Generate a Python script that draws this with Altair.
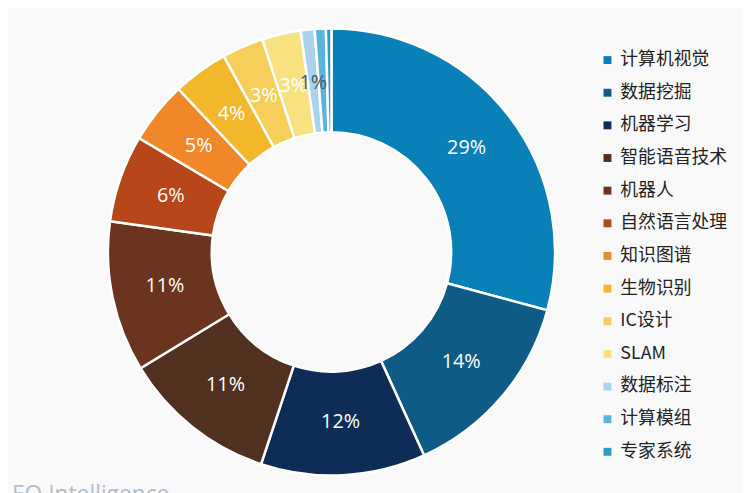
import altair as alt
import pandas as pd

categories = ["计算机视觉", "数据挖掘", "机器学习", "智能语音技术", "机器人", "自然语言处理",
              "知识图谱", "生物识别", "IC设计", "SLAM", "数据标注", "计算模组", "专家系统"]
values = [29.2, 14.0, 11.9, 11.2, 10.9, 6.3, 4.5, 4.0, 3.0, 2.8, 1.0, 0.8, 0.4]
labels = ["29%", "14%", "12%", "11%", "11%", "6%", "5%", "4%", "3%", "3%", "1%", "", ""]
colors = ["#0A80B8", "#0E5C86", "#0D2D57", "#51301F", "#6B341E", "#B7461B",
          "#F0882A", "#F2B72B", "#F5CF5A", "#F7E27F", "#A9D3EA", "#5BB4DE", "#2A9BC8"]
label_colors = ["#FFFFFF"] * 10 + ["#4A5563", "#FFFFFF", "#FFFFFF"]

df = pd.DataFrame({
    "category": categories,
    "value": values,
    "label": labels,
    "order": list(range(len(categories))),
    "labelColor": label_colors,
})

CX, CY = 327, 244

base = alt.Chart(df).encode(
    theta=alt.Theta("value:Q", stack=True),
    order=alt.Order("order:Q"),
)

arcs = base.mark_arc(innerRadius=121, outerRadius=226, stroke="#FFFFFF", strokeWidth=2.5).encode(
    color=alt.Color(
        "category:N",
        sort=categories,
        scale=alt.Scale(domain=categories, range=colors),
        legend=alt.Legend(
            title=None,
            orient="none",
            legendX=597,
            legendY=41,
            symbolType="square",
            symbolSize=64,
            symbolStrokeWidth=0,
            labelFont="Noto Sans CJK SC",
            labelFontSize=18,
            labelColor="#222222",
            labelOffset=4,
            rowPadding=15,
            labelLimit=200,
        ),
    ),
    x=alt.value(CX),
    y=alt.value(CY),
)

texts = base.mark_text(radius=172, fontSize=20, font="Open Sans").encode(
    text="label:N",
    color=alt.Color("labelColor:N", scale=None),
    x=alt.value(CX),
    y=alt.value(CY),
)

footer = alt.Chart(pd.DataFrame({"t": ["EO Intelligence"]})).mark_text(
    align="left", baseline="alphabetic", fontSize=23, font="Open Sans", color="#B3BDC8"
).encode(text="t:N", x=alt.value(4), y=alt.value(497))

chart = alt.layer(arcs, texts, footer).properties(
    width=742, height=485,
    autosize=alt.AutoSizeParams(type="none"),
    padding=0,
    background="#F9F9F9",
).configure_view(stroke=None)

chart.save("out.html", embed_options={"renderer": "svg", "actions": False})
